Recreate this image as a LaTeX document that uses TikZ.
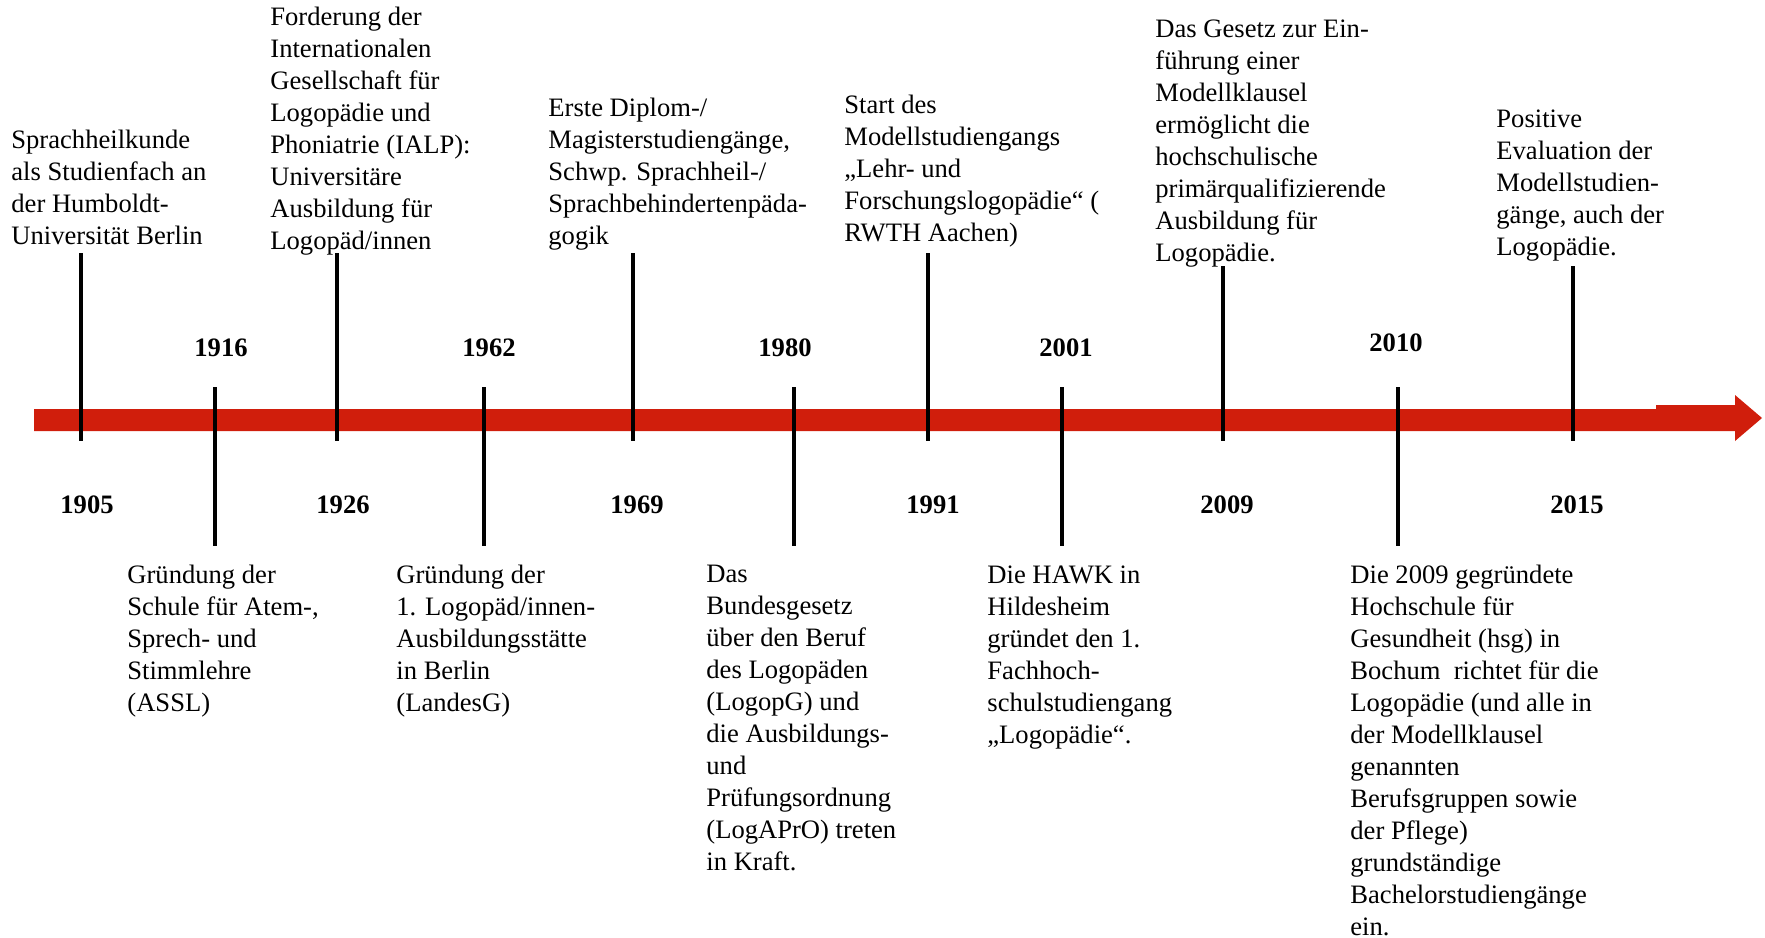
\documentclass[tikz,border=0pt]{standalone}
\usepackage{fontspec}
\setmainfont{Liberation Serif}
\definecolor{barred}{RGB}{208,30,12}
\begin{document}
\begin{tikzpicture}[x=0.5pt,y=-0.5pt,
  evt/.style={anchor=north west,inner sep=0pt,align=left,font=\fontsize{13.3}{16}\selectfont},
  yr/.style={inner sep=0pt,font=\fontsize{13.3}{16}\selectfont\bfseries},
  tickline/.style={line width=1.75pt,black}]
\useasboundingbox (0,0) rectangle (1765,937);
% red arrow
\fill[barred] (34,409) -- (1656,409) -- (1656,405) -- (1735,405) -- (1735,395) -- (1762,418) -- (1735,441) -- (1735,431) -- (34,431) -- cycle;
% tick end points
\foreach \n/\x/\t/\b in {1905/81/253/441, 1926/337/253/441, 1969/633/253/441, 1991/928/253/441, 2009/1223/266/441, 2015/1573/266/441,
  1916/215/387/546, 1962/484/387/546, 1980/794/387/546, 2001/1062/387/546, 2010/1398/387/546}{
  \coordinate (t\n a) at (\x,\t);
  \coordinate (t\n b) at (\x,\b);
  \draw[tickline] (t\n a) -- (t\n b);
}
% years
\node[yr] (y1905) at (87,505) {1905};
\node[yr] (y1916) at (221,348) {1916};
\node[yr] (y1926) at (343,505) {1926};
\node[yr] (y1962) at (489,348) {1962};
\node[yr] (y1969) at (637,505) {1969};
\node[yr] (y1980) at (785,348) {1980};
\node[yr] (y1991) at (933,505) {1991};
\node[yr] (y2001) at (1066,348) {2001};
\node[yr] (y2009) at (1227,505) {2009};
\node[yr] (y2010) at (1396,343) {2010};
\node[yr] (y2015) at (1577,505) {2015};
% upper texts
\node[evt] (e1905) at (11,130) {Sprachheilkunde\\als Studienfach an\\der Humboldt-\\Universität Berlin};
\node[evt] (e1926) at (270,7) {Forderung der\\Internationalen\\Gesellschaft für\\Logopädie und\\Phoniatrie (IALP):\\Universitäre\\Ausbildung für\\Logopäd/innen};
\node[evt] (e1969) at (548,98) {Erste Diplom-/\\Magisterstudiengänge,\\Schwp. Sprachheil-/\\Sprachbehindertenpäda-\\gogik};
\node[evt] (e1991) at (844,95) {Start des\\Modellstudiengangs\\„Lehr- und\\Forschungslogopädie“ (\\RWTH Aachen)};
\node[evt] (e2009) at (1155,19) {Das Gesetz zur Ein-\\führung einer\\Modellklausel\\ermöglicht die\\hochschulische\\primärqualifizierende\\Ausbildung für\\Logopädie.};
\node[evt] (e2015) at (1496,109) {Positive\\Evaluation der\\Modellstudien-\\gänge, auch der\\Logopädie.};
% lower texts
\node[evt] (e1916) at (127,565) {Gründung der\\Schule für Atem-,\\Sprech- und\\Stimmlehre\\(ASSL)};
\node[evt] (e1962) at (396,565) {Gründung der\\1. Logopäd/innen-\\Ausbildungsstätte\\in Berlin\\(LandesG)};
\node[evt] (e1980) at (706,565) {Das\\Bundesgesetz\\über den Beruf\\des Logopäden\\(LogopG) und\\die Ausbildungs-\\und\\Prüfungsordnung\\(LogAPrO) treten\\in Kraft.};
\node[evt] (e2001) at (987,565) {Die HAWK in\\Hildesheim\\gründet den 1.\\Fachhoch-\\schulstudiengang\\„Logopädie“.};
\node[evt] (e2010) at (1350,565) {Die 2009 gegründete\\Hochschule für\\Gesundheit (hsg) in\\Bochum\ \ richtet für die\\Logopädie (und alle in\\der Modellklausel\\genannten\\Berufsgruppen sowie\\der Pflege)\\grundständige\\Bachelorstudiengänge\\ein.};
\end{tikzpicture}
\end{document}
